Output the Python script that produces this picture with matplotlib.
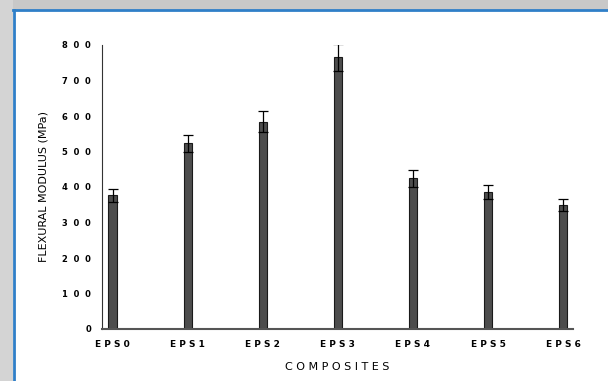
import matplotlib
matplotlib.use('Agg')
from matplotlib import pyplot as plt
from matplotlib.patches import Rectangle
from matplotlib.lines import Line2D
import numpy as np

composites = ['EPS0', 'EPS1', 'EPS2', 'EPS3', 'EPS4', 'EPS5', 'EPS6']
modulus = [377, 523, 584, 765, 424, 386, 349]
errors = [18, 24, 30, 38, 24, 21, 16]
yticks = [0, 100, 200, 300, 400, 500, 600, 700, 800]

def spaced(s):
    return ' '.join(list(s))

fig = plt.figure(figsize=(6.08, 3.81), dpi=100)
fig.patch.set_facecolor('white')

# window shadow + blue frame of the screenshot
fig.add_artist(Rectangle((0, 371/381), 1, 10/381, transform=fig.transFigure,
                         facecolor='#c8c8c8', edgecolor='none'))
fig.add_artist(Rectangle((0, 0), 13/608, 1, transform=fig.transFigure,
                         facecolor='#d4d4d4', edgecolor='none'))
fig.add_artist(Line2D([13.5/608, 13.5/608], [0, 371/381], transform=fig.transFigure,
                      color='#2f7fc8', lw=2))
fig.add_artist(Line2D([13/608, 1], [371/381, 371/381], transform=fig.transFigure,
                      color='#2f7fc8', lw=2))

ax = fig.add_axes([102/608, 52/381, 471/608, 284/381])
x = np.arange(len(composites))
ax.bar(x, modulus, width=0.11, color='#4d4d4d', edgecolor='#1a1a1a', linewidth=0.8,
       yerr=errors, error_kw=dict(ecolor='black', elinewidth=0.9, capsize=3.5, capthick=0.9))

ax.set_xlim(-0.14, 6.13)
ax.set_ylim(0, 800)
ax.set_yticks(yticks)
ax.set_yticklabels(['  '.join(list(str(v))) for v in yticks], fontsize=6, fontweight='bold')
ax.set_xticks(x)
ax.set_xticklabels([spaced(c) for c in composites], fontsize=6.5, fontweight='bold')
ax.tick_params(axis='y', length=0, pad=8)
ax.tick_params(axis='x', length=0, pad=8)
for s in ['top', 'right']:
    ax.spines[s].set_visible(False)
ax.spines['left'].set_color('#333333')
ax.spines['bottom'].set_color('#555555')
ax.spines['bottom'].set_linewidth(1.5)
ax.set_ylabel('FLEXURAL MODULUS (MPa)', fontsize=8, labelpad=10)
ax.set_xlabel(spaced('COMPOSITES'), fontsize=8, labelpad=9)

plt.savefig('out.png', dpi=100)
